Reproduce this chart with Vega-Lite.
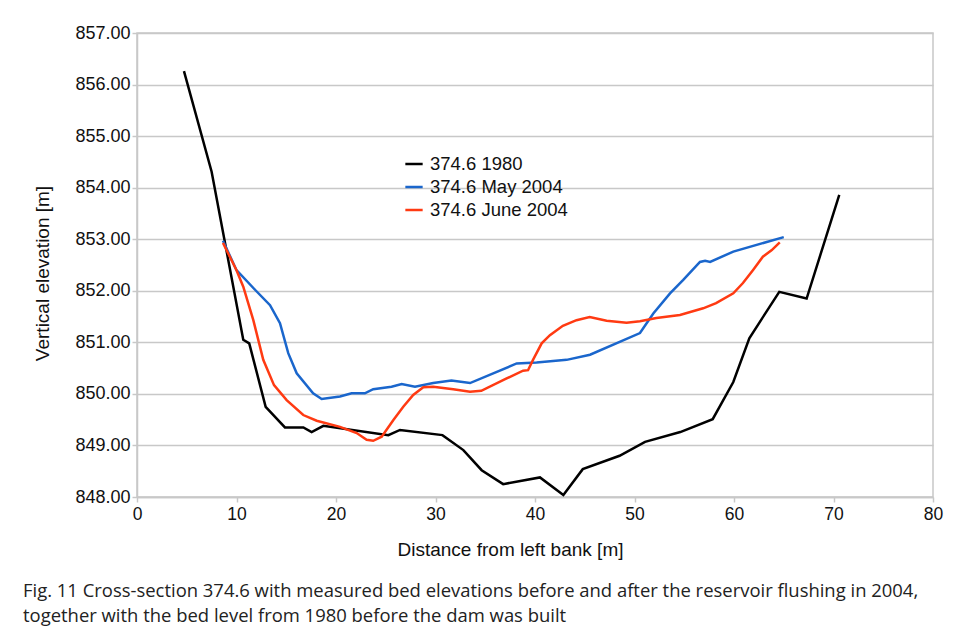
{
  "$schema": "https://vega.github.io/schema/vega-lite/v6.json",
  "width": 796,
  "height": 464,
  "autosize": {"type": "none"},
  "padding": {"left": 137, "top": 33, "right": 24, "bottom": 135},
  "background": "white",
  "config": {
    "view": {"stroke": "#c8c8c8", "strokeWidth": 1.5},
    "font": "Liberation Sans"
  },
  "title": {
    "text": ["Fig. 11  Cross-section 374.6 with measured bed elevations before and after the reservoir flushing in 2004,", "together with the bed level from 1980 before the dam was built"],
    "orient": "bottom",
    "anchor": "start",
    "frame": "group",
    "dx": -114,
    "offset": 22,
    "font": "Open Sans",
    "fontSize": 18.45,
    "fontWeight": "normal",
    "lineHeight": 25,
    "color": "#222222"
  },
  "data": {
    "values": [
      {"series": "374.6 1980", "order": 1, "x": 4.72, "y": 856.26},
      {"series": "374.6 1980", "order": 2, "x": 7.5, "y": 854.31},
      {"series": "374.6 1980", "order": 3, "x": 10.68, "y": 851.05},
      {"series": "374.6 1980", "order": 4, "x": 11.28, "y": 850.98},
      {"series": "374.6 1980", "order": 5, "x": 12.93, "y": 849.75},
      {"series": "374.6 1980", "order": 6, "x": 14.87, "y": 849.35},
      {"series": "374.6 1980", "order": 7, "x": 16.72, "y": 849.35},
      {"series": "374.6 1980", "order": 8, "x": 17.55, "y": 849.26},
      {"series": "374.6 1980", "order": 9, "x": 18.73, "y": 849.38},
      {"series": "374.6 1980", "order": 10, "x": 25.26, "y": 849.2},
      {"series": "374.6 1980", "order": 11, "x": 26.43, "y": 849.3},
      {"series": "374.6 1980", "order": 12, "x": 30.7, "y": 849.2},
      {"series": "374.6 1980", "order": 13, "x": 32.8, "y": 848.91},
      {"series": "374.6 1980", "order": 14, "x": 34.64, "y": 848.52},
      {"series": "374.6 1980", "order": 15, "x": 36.8, "y": 848.25},
      {"series": "374.6 1980", "order": 16, "x": 40.5, "y": 848.38},
      {"series": "374.6 1980", "order": 17, "x": 42.85, "y": 848.04},
      {"series": "374.6 1980", "order": 18, "x": 44.8, "y": 848.54},
      {"series": "374.6 1980", "order": 19, "x": 48.5, "y": 848.8},
      {"series": "374.6 1980", "order": 20, "x": 51.06, "y": 849.07},
      {"series": "374.6 1980", "order": 21, "x": 54.6, "y": 849.26},
      {"series": "374.6 1980", "order": 22, "x": 57.86, "y": 849.51},
      {"series": "374.6 1980", "order": 23, "x": 59.93, "y": 850.23},
      {"series": "374.6 1980", "order": 24, "x": 61.54, "y": 851.08},
      {"series": "374.6 1980", "order": 25, "x": 64.55, "y": 851.98},
      {"series": "374.6 1980", "order": 26, "x": 67.3, "y": 851.85},
      {"series": "374.6 1980", "order": 27, "x": 70.58, "y": 853.86},

      {"series": "374.6 May 2004", "order": 1, "x": 8.64, "y": 852.97},
      {"series": "374.6 May 2004", "order": 2, "x": 10.0, "y": 852.4},
      {"series": "374.6 May 2004", "order": 3, "x": 11.86, "y": 852.02},
      {"series": "374.6 May 2004", "order": 4, "x": 13.37, "y": 851.72},
      {"series": "374.6 May 2004", "order": 5, "x": 14.37, "y": 851.37},
      {"series": "374.6 May 2004", "order": 6, "x": 15.2, "y": 850.79},
      {"series": "374.6 May 2004", "order": 7, "x": 16.05, "y": 850.4},
      {"series": "374.6 May 2004", "order": 8, "x": 17.7, "y": 850.01},
      {"series": "374.6 May 2004", "order": 9, "x": 18.56, "y": 849.9},
      {"series": "374.6 May 2004", "order": 10, "x": 20.4, "y": 849.95},
      {"series": "374.6 May 2004", "order": 11, "x": 21.57, "y": 850.01},
      {"series": "374.6 May 2004", "order": 12, "x": 22.9, "y": 850.01},
      {"series": "374.6 May 2004", "order": 13, "x": 23.74, "y": 850.09},
      {"series": "374.6 May 2004", "order": 14, "x": 25.58, "y": 850.14},
      {"series": "374.6 May 2004", "order": 15, "x": 26.6, "y": 850.19},
      {"series": "374.6 May 2004", "order": 16, "x": 27.94, "y": 850.14},
      {"series": "374.6 May 2004", "order": 17, "x": 29.77, "y": 850.21},
      {"series": "374.6 May 2004", "order": 18, "x": 31.6, "y": 850.26},
      {"series": "374.6 May 2004", "order": 19, "x": 33.47, "y": 850.21},
      {"series": "374.6 May 2004", "order": 20, "x": 38.16, "y": 850.59},
      {"series": "374.6 May 2004", "order": 21, "x": 40.16, "y": 850.61},
      {"series": "374.6 May 2004", "order": 22, "x": 43.18, "y": 850.66},
      {"series": "374.6 May 2004", "order": 23, "x": 45.53, "y": 850.76},
      {"series": "374.6 May 2004", "order": 24, "x": 50.55, "y": 851.18},
      {"series": "374.6 May 2004", "order": 25, "x": 51.89, "y": 851.56},
      {"series": "374.6 May 2004", "order": 26, "x": 53.57, "y": 851.95},
      {"series": "374.6 May 2004", "order": 27, "x": 54.9, "y": 852.21},
      {"series": "374.6 May 2004", "order": 28, "x": 56.58, "y": 852.56},
      {"series": "374.6 May 2004", "order": 29, "x": 57.1, "y": 852.58},
      {"series": "374.6 May 2004", "order": 30, "x": 57.6, "y": 852.56},
      {"series": "374.6 May 2004", "order": 31, "x": 59.93, "y": 852.76},
      {"series": "374.6 May 2004", "order": 32, "x": 65.0, "y": 853.04},

      {"series": "374.6 June 2004", "order": 1, "x": 8.64, "y": 852.93},
      {"series": "374.6 June 2004", "order": 2, "x": 10.0, "y": 852.4},
      {"series": "374.6 June 2004", "order": 3, "x": 10.68, "y": 852.08},
      {"series": "374.6 June 2004", "order": 4, "x": 11.69, "y": 851.43},
      {"series": "374.6 June 2004", "order": 5, "x": 12.69, "y": 850.66},
      {"series": "374.6 June 2004", "order": 6, "x": 13.77, "y": 850.17},
      {"series": "374.6 June 2004", "order": 7, "x": 15.04, "y": 849.88},
      {"series": "374.6 June 2004", "order": 8, "x": 16.71, "y": 849.59},
      {"series": "374.6 June 2004", "order": 9, "x": 18.06, "y": 849.48},
      {"series": "374.6 June 2004", "order": 10, "x": 20.4, "y": 849.36},
      {"series": "374.6 June 2004", "order": 11, "x": 22.08, "y": 849.24},
      {"series": "374.6 June 2004", "order": 12, "x": 23.08, "y": 849.11},
      {"series": "374.6 June 2004", "order": 13, "x": 23.74, "y": 849.09},
      {"series": "374.6 June 2004", "order": 14, "x": 24.59, "y": 849.17},
      {"series": "374.6 June 2004", "order": 15, "x": 25.75, "y": 849.49},
      {"series": "374.6 June 2004", "order": 16, "x": 26.76, "y": 849.75},
      {"series": "374.6 June 2004", "order": 17, "x": 27.76, "y": 849.98},
      {"series": "374.6 June 2004", "order": 18, "x": 28.77, "y": 850.13},
      {"series": "374.6 June 2004", "order": 19, "x": 29.77, "y": 850.14},
      {"series": "374.6 June 2004", "order": 20, "x": 31.78, "y": 850.09},
      {"series": "374.6 June 2004", "order": 21, "x": 33.47, "y": 850.04},
      {"series": "374.6 June 2004", "order": 22, "x": 34.6, "y": 850.06},
      {"series": "374.6 June 2004", "order": 23, "x": 37.15, "y": 850.3},
      {"series": "374.6 June 2004", "order": 24, "x": 38.8, "y": 850.45},
      {"series": "374.6 June 2004", "order": 25, "x": 39.3, "y": 850.46},
      {"series": "374.6 June 2004", "order": 26, "x": 39.8, "y": 850.66},
      {"series": "374.6 June 2004", "order": 27, "x": 40.67, "y": 850.98},
      {"series": "374.6 June 2004", "order": 28, "x": 41.5, "y": 851.14},
      {"series": "374.6 June 2004", "order": 29, "x": 42.8, "y": 851.32},
      {"series": "374.6 June 2004", "order": 30, "x": 44.17, "y": 851.43},
      {"series": "374.6 June 2004", "order": 31, "x": 45.5, "y": 851.49},
      {"series": "374.6 June 2004", "order": 32, "x": 47.2, "y": 851.42},
      {"series": "374.6 June 2004", "order": 33, "x": 49.2, "y": 851.38},
      {"series": "374.6 June 2004", "order": 34, "x": 50.55, "y": 851.41},
      {"series": "374.6 June 2004", "order": 35, "x": 52.2, "y": 851.47},
      {"series": "374.6 June 2004", "order": 36, "x": 54.57, "y": 851.53},
      {"series": "374.6 June 2004", "order": 37, "x": 56.9, "y": 851.66},
      {"series": "374.6 June 2004", "order": 38, "x": 58.2, "y": 851.76},
      {"series": "374.6 June 2004", "order": 39, "x": 59.93, "y": 851.95},
      {"series": "374.6 June 2004", "order": 40, "x": 60.9, "y": 852.15},
      {"series": "374.6 June 2004", "order": 41, "x": 61.9, "y": 852.4},
      {"series": "374.6 June 2004", "order": 42, "x": 62.9, "y": 852.66},
      {"series": "374.6 June 2004", "order": 43, "x": 63.8, "y": 852.79},
      {"series": "374.6 June 2004", "order": 44, "x": 64.6, "y": 852.94}
    ]
  },
  "mark": {"type": "line", "strokeWidth": 2.5, "interpolate": "linear"},
  "encoding": {
    "x": {
      "field": "x",
      "type": "quantitative",
      "scale": {"domain": [0, 80], "nice": false, "zero": false},
      "axis": {
        "title": "Distance from left bank [m]",
        "values": [0, 10, 20, 30, 40, 50, 60, 70, 80],
        "format": "d",
        "grid": false,
        "labelFlush": false,
        "domainColor": "#c8c8c8",
        "domainWidth": 1.5,
        "tickColor": "#c8c8c8",
        "tickWidth": 1.5,
        "tickSize": 5,
        "labelFontSize": 17.5,
        "labelColor": "#111111",
        "labelPadding": 3,
        "titleFontSize": 19,
        "titleFontWeight": "normal",
        "titleColor": "#111111",
        "titlePadding": 18,
        "titleX": 373
      }
    },
    "y": {
      "field": "y",
      "type": "quantitative",
      "scale": {"domain": [848, 857], "nice": false, "zero": false},
      "axis": {
        "title": "Vertical elevation [m]",
        "values": [848, 849, 850, 851, 852, 853, 854, 855, 856, 857],
        "format": ".2f",
        "grid": true,
        "gridColor": "#c8c8c8",
        "gridWidth": 1.5,
        "domainColor": "#c8c8c8",
        "domainWidth": 1.5,
        "tickColor": "#c8c8c8",
        "tickWidth": 1.5,
        "tickSize": 5,
        "labelFontSize": 18,
        "labelColor": "#111111",
        "labelPadding": 2,
        "titleFontSize": 19,
        "titleFontWeight": "normal",
        "titleColor": "#111111",
        "titlePadding": 22,
        "titleY": 240
      }
    },
    "color": {
      "field": "series",
      "type": "nominal",
      "scale": {
        "domain": ["374.6 1980", "374.6 May 2004", "374.6 June 2004"],
        "range": ["#000000", "#1a66cc", "#ff3a12"]
      },
      "legend": {
        "title": null,
        "orient": "none",
        "legendX": 267,
        "legendY": 121,
        "symbolType": "stroke",
        "symbolSize": 300,
        "symbolStrokeWidth": 2.5,
        "labelFontSize": 18.5,
        "labelColor": "#111111",
        "labelOffset": 6,
        "rowPadding": 3
      }
    },
    "order": {"field": "order", "type": "quantitative"}
  }
}
